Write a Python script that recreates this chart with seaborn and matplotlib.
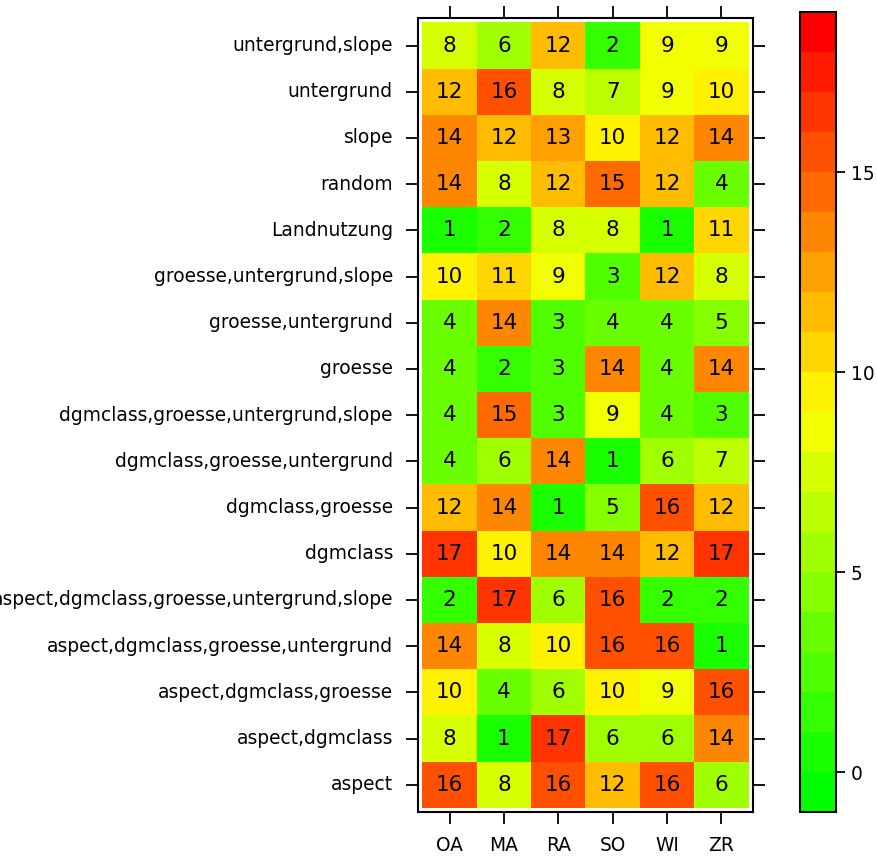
import numpy as np
import pandas as pd
import matplotlib
matplotlib.use("Agg")
import matplotlib.pyplot as plt
import seaborn as sns
from matplotlib.colors import LinearSegmentedColormap, ListedColormap

# variable combinations (top to bottom) and sites
rows = ["untergrund,slope", "untergrund", "slope", "random", "Landnutzung",
        "groesse,untergrund,slope", "groesse,untergrund", "groesse",
        "dgmclass,groesse,untergrund,slope", "dgmclass,groesse,untergrund",
        "dgmclass,groesse", "dgmclass",
        "aspect,dgmclass,groesse,untergrund,slope",
        "aspect,dgmclass,groesse,untergrund", "aspect,dgmclass,groesse",
        "aspect,dgmclass", "aspect"]
cols = ["OA", "MA", "RA", "SO", "WI", "ZR"]

oa = [8, 12, 14, 14, 1, 10, 4, 4, 4, 4, 12, 17, 2, 14, 10, 8, 16]
ma = [6, 16, 12, 8, 2, 11, 14, 2, 15, 6, 14, 10, 17, 8, 4, 1, 8]
ra = [12, 8, 13, 12, 8, 9, 3, 3, 3, 14, 1, 14, 6, 10, 6, 17, 16]
so = [2, 7, 10, 15, 8, 3, 4, 14, 9, 1, 5, 14, 16, 16, 10, 6, 12]
wi = [9, 9, 12, 12, 1, 12, 4, 4, 4, 6, 16, 12, 2, 16, 9, 6, 16]
zr = [9, 10, 14, 4, 11, 8, 5, 14, 3, 7, 12, 17, 2, 1, 16, 14, 6]

df = pd.DataFrame({"OA": oa, "MA": ma, "RA": ra, "SO": so, "WI": wi, "ZR": zr},
                  index=rows)[cols]

# 20-step green -> yellow -> red palette like colorRampPalette in R
ramp = LinearSegmentedColormap.from_list("gyr", ["#00FF00", "#FFFF00", "#FF0000"])
cmap = ListedColormap([ramp(i / 19) for i in range(20)])

fig = plt.figure(figsize=(8.77, 8.59), dpi=100)
ax = fig.add_axes([0.4766, 0.0547, 0.382, 0.924])
cax = fig.add_axes([0.912, 0.0547, 0.041, 0.931])

# values sit on band edges; shift by half a unit so each falls in the (v-1, v] band
sns.heatmap(df - 0.5, annot=df.values, fmt="d", cmap=cmap, vmin=-1, vmax=19,
            ax=ax, cbar_ax=cax, annot_kws=dict(size=15.5, color="black"))

ax.set_xlim(-0.08, 6.08)
ax.set_ylim(17.09, -0.09)
ax.set_xlabel("")
ax.set_ylabel("")
for s in ax.spines.values():
    s.set_visible(True)
    s.set_linewidth(1.5)
ax.tick_params(direction="out", length=8.5, width=1.3, top=True, right=True,
               labeltop=False, labelright=False, labelsize=13.4, pad=9.5)
ax.tick_params(axis="x", pad=8.5)
plt.setp(ax.get_yticklabels(), rotation=0)
plt.setp(ax.get_xticklabels(), rotation=0)

cb = ax.collections[0].colorbar
cb.set_ticks([0, 5, 10, 15])
cb.outline.set_visible(True)
cb.outline.set_linewidth(1.5)
cax.tick_params(direction="out", length=6.5, width=1.3, labelsize=13.4, pad=4.5)

fig.savefig("out.png", dpi=100)
